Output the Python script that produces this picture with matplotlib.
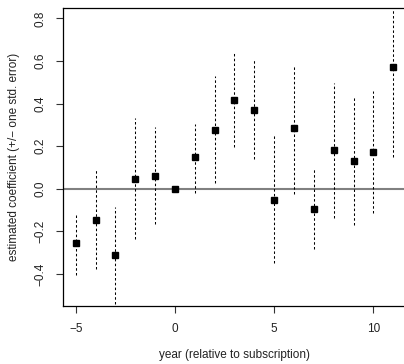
import numpy as np
import matplotlib
matplotlib.use("Agg")
import matplotlib.pyplot as plt

plt.rcParams['font.family'] = ['Liberation Sans', 'DejaVu Sans']

# event-study coefficients
years = [-5, -4, -3, -2, -1, 0, 1, 2, 3, 4, 5, 6, 7, 8, 9, 10, 11]
coef = [-0.254, -0.147, -0.311, 0.047, 0.061, 0.0, 0.150, 0.276, 0.416, 0.369,
        -0.053, 0.286, -0.095, 0.182, 0.130, 0.172, 0.573]
lower = [-0.407, -0.376, -0.543, -0.236, -0.167, 0.0, -0.022, 0.025, 0.197, 0.138,
         -0.350, -0.025, -0.285, -0.136, -0.170, -0.116, 0.150]
upper = [-0.113, 0.088, -0.085, 0.333, 0.291, 0.0, 0.304, 0.529, 0.636, 0.604,
         0.252, 0.581, 0.096, 0.498, 0.435, 0.460, 0.839]
xticks = [-5, 0, 5, 10]
yticks = [-0.4, -0.2, 0.0, 0.2, 0.4, 0.6, 0.8]

fig = plt.figure(figsize=(4.04, 3.64), dpi=100)
ax = fig.add_axes([63 / 404, 58 / 364, 343 / 404, 298.5 / 364])

ax.axhline(0, color='#808080', lw=1.5, zorder=1)
for x, lo, hi in zip(years, lower, upper):
    if hi - lo > 0:
        ax.plot([x, x], [lo, hi], color='black', lw=0.75,
                linestyle=(0, (2.4, 2.2)), zorder=2)
ax.plot(years, coef, 's', color='black', markersize=5, zorder=3)

ax.set_xlim(-5.64, 11.64)
ax.set_ylim(-0.551, 0.851)
ax.set_xticks(xticks)
ax.set_yticks(yticks)
ax.set_xticklabels([str(t).replace('-', '\u2212') for t in xticks])
ax.set_yticklabels([f"{t:.1f}".replace('-', '\u2212') for t in yticks],
                   rotation=90, va='center')
ax.tick_params(length=5.2, width=0.8, color='#333333', labelsize=8.5,
               labelcolor='#222222', pad=7)
for s in ax.spines.values():
    s.set_linewidth(0.9)

ax.set_xlabel("year (relative to subscription)", fontsize=8.5, color='#222222', labelpad=10)
ax.set_ylabel("estimated coefficient (+/\u2212 one std. error)", fontsize=8.5,
              color='#222222', labelpad=10)

fig.savefig("out.png", dpi=100)
